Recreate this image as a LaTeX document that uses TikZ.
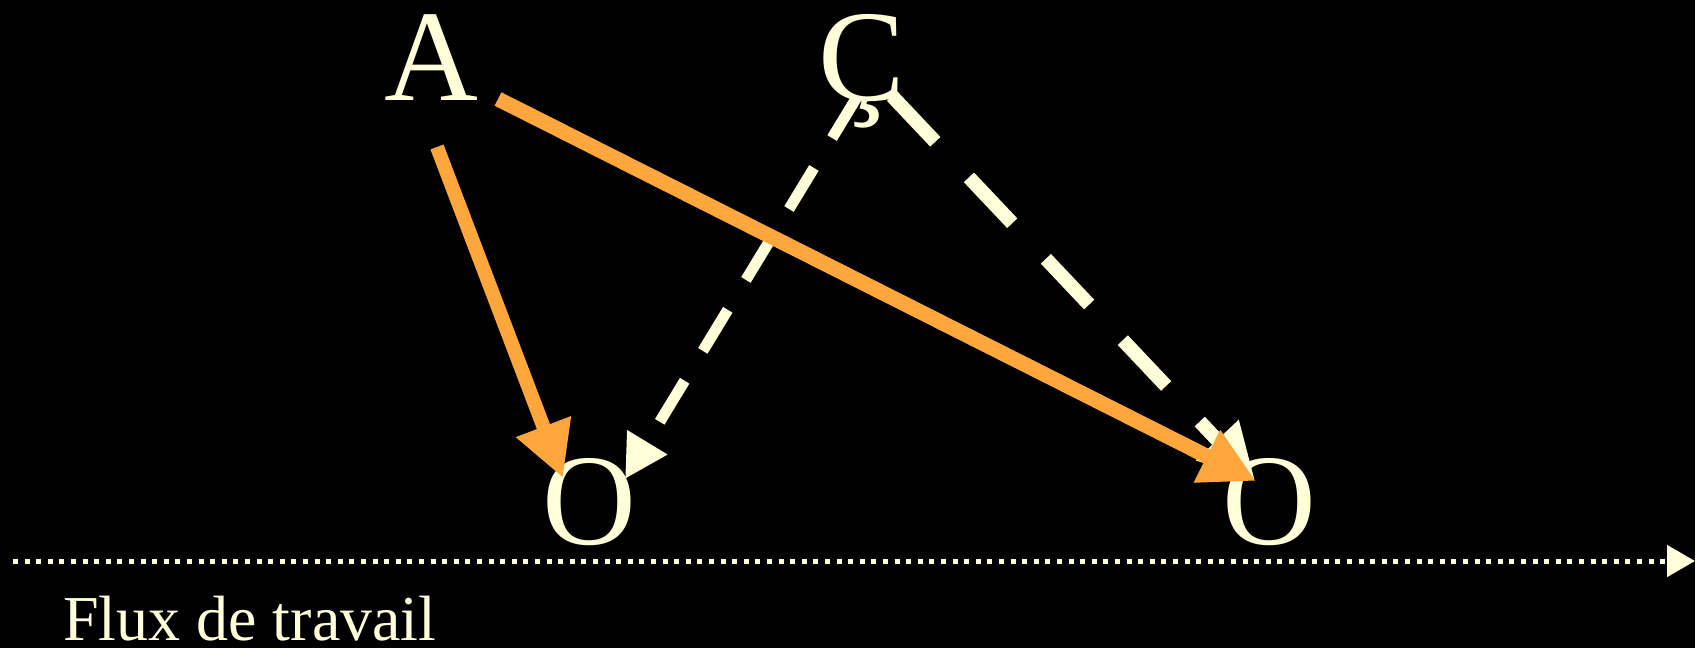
\documentclass[tikz,border=0pt]{standalone}
\usepackage{fontspec}
\setmainfont{Liberation Serif}
\usetikzlibrary{arrows.meta,calc}
\definecolor{cream}{HTML}{FFFFD9}
\definecolor{orng}{HTML}{FFA63C}
\begin{document}
\begin{tikzpicture}[x=1pt,y=-1pt,
 big/.style={text=cream,font=\fontsize{130}{130}\selectfont,inner sep=0pt,anchor=base},
 orangearrow/.style={draw=orng,line width=14pt,-{Triangle[length=55pt,width=55pt]}},
 creamthin/.style={draw=cream,line width=11pt,dash pattern=on 48pt off 35pt,-{Triangle[length=43pt,width=44pt]}},
 creamthick/.style={draw=cream,line width=14pt,dash pattern=on 63pt off 49pt,-{Triangle[length=55pt,width=55pt]}},
 flow/.style={draw=cream,line width=5pt,dash pattern=on 5pt off 6.6pt,-{Triangle[length=28pt,width=31pt]}}]
\fill[black] (0,0) rectangle (1695,648);
\useasboundingbox (0,0) rectangle (1695,648);
\node[big] (A) at (431,100) {A};
\node[big] (C) at (862,100) {Ç};
\node[big] (O1) at (589,544) {O};
\node[big] (O2) at (1269,544) {O};
\node[text=cream,font=\fontsize{64}{64}\selectfont,inner sep=0pt,anchor=base west] (F) at (63,640) {Flux de travail};
\coordinate (fs) at (13,561);
\coordinate (fe) at (1695,561);
\draw[flow] (fs) -- (fe);
\draw[creamthin] ([shift={(-5,-3)}]C.base) -- ([shift={(36,-65)}]O1.base);
\draw[creamthick] ([shift={(30,-4)}]C.base) -- ([shift={(-14,-64)}]O2.base);
\draw[orangearrow] ([shift={(6,47)}]A.base) -- ([shift={(-26,-66)}]O1.base);
\draw[orangearrow,line width=15pt] ([shift={(67,-1)}]A.base) -- ([shift={(-13,-63)}]O2.base);
\end{tikzpicture}
\end{document}
